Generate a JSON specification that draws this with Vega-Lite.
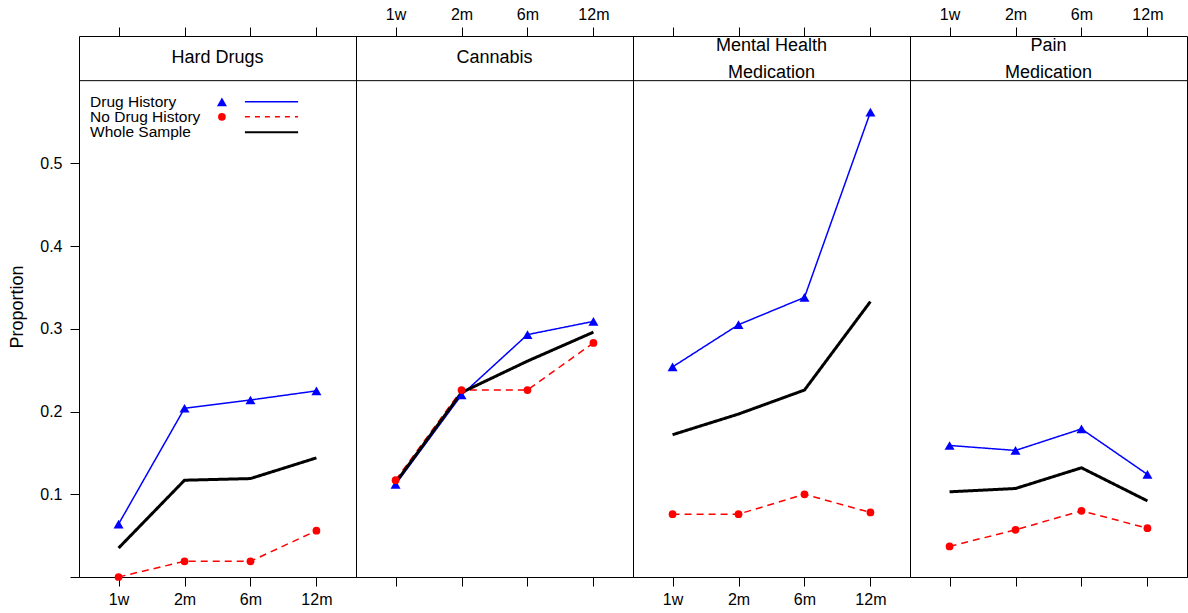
{
  "$schema": "https://vega.github.io/schema/vega-lite/v6.json",
  "padding": {"left": 8, "top": 5, "right": 0, "bottom": 0},
  "background": "white",
  "spacing": 0,
  "bounds": "flush",
  "datasets": {
    "d": [
      {"panel": "Hard Drugs", "time": "1w", "group": "Drug History", "value": 0.064},
      {"panel": "Hard Drugs", "time": "2m", "group": "Drug History", "value": 0.204},
      {"panel": "Hard Drugs", "time": "6m", "group": "Drug History", "value": 0.214},
      {"panel": "Hard Drugs", "time": "12m", "group": "Drug History", "value": 0.225},
      {"panel": "Hard Drugs", "time": "1w", "group": "No Drug History", "value": 0.0},
      {"panel": "Hard Drugs", "time": "2m", "group": "No Drug History", "value": 0.019},
      {"panel": "Hard Drugs", "time": "6m", "group": "No Drug History", "value": 0.019},
      {"panel": "Hard Drugs", "time": "12m", "group": "No Drug History", "value": 0.056},
      {"panel": "Hard Drugs", "time": "1w", "group": "Whole Sample", "value": 0.035},
      {"panel": "Hard Drugs", "time": "2m", "group": "Whole Sample", "value": 0.117},
      {"panel": "Hard Drugs", "time": "6m", "group": "Whole Sample", "value": 0.119},
      {"panel": "Hard Drugs", "time": "12m", "group": "Whole Sample", "value": 0.144},
      {"panel": "Cannabis", "time": "1w", "group": "Drug History", "value": 0.112},
      {"panel": "Cannabis", "time": "2m", "group": "Drug History", "value": 0.220},
      {"panel": "Cannabis", "time": "6m", "group": "Drug History", "value": 0.293},
      {"panel": "Cannabis", "time": "12m", "group": "Drug History", "value": 0.309},
      {"panel": "Cannabis", "time": "1w", "group": "No Drug History", "value": 0.117},
      {"panel": "Cannabis", "time": "2m", "group": "No Drug History", "value": 0.226},
      {"panel": "Cannabis", "time": "6m", "group": "No Drug History", "value": 0.226},
      {"panel": "Cannabis", "time": "12m", "group": "No Drug History", "value": 0.283},
      {"panel": "Cannabis", "time": "1w", "group": "Whole Sample", "value": 0.114},
      {"panel": "Cannabis", "time": "2m", "group": "Whole Sample", "value": 0.223},
      {"panel": "Cannabis", "time": "6m", "group": "Whole Sample", "value": 0.261},
      {"panel": "Cannabis", "time": "12m", "group": "Whole Sample", "value": 0.296},
      {"panel": "Mental Health Medication", "time": "1w", "group": "Drug History", "value": 0.254},
      {"panel": "Mental Health Medication", "time": "2m", "group": "Drug History", "value": 0.305},
      {"panel": "Mental Health Medication", "time": "6m", "group": "Drug History", "value": 0.338},
      {"panel": "Mental Health Medication", "time": "12m", "group": "Drug History", "value": 0.562},
      {"panel": "Mental Health Medication", "time": "1w", "group": "No Drug History", "value": 0.076},
      {"panel": "Mental Health Medication", "time": "2m", "group": "No Drug History", "value": 0.076},
      {"panel": "Mental Health Medication", "time": "6m", "group": "No Drug History", "value": 0.100},
      {"panel": "Mental Health Medication", "time": "12m", "group": "No Drug History", "value": 0.078},
      {"panel": "Mental Health Medication", "time": "1w", "group": "Whole Sample", "value": 0.172},
      {"panel": "Mental Health Medication", "time": "2m", "group": "Whole Sample", "value": 0.197},
      {"panel": "Mental Health Medication", "time": "6m", "group": "Whole Sample", "value": 0.226},
      {"panel": "Mental Health Medication", "time": "12m", "group": "Whole Sample", "value": 0.333},
      {"panel": "Pain Medication", "time": "1w", "group": "Drug History", "value": 0.159},
      {"panel": "Pain Medication", "time": "2m", "group": "Drug History", "value": 0.153},
      {"panel": "Pain Medication", "time": "6m", "group": "Drug History", "value": 0.179},
      {"panel": "Pain Medication", "time": "12m", "group": "Drug History", "value": 0.124},
      {"panel": "Pain Medication", "time": "1w", "group": "No Drug History", "value": 0.037},
      {"panel": "Pain Medication", "time": "2m", "group": "No Drug History", "value": 0.057},
      {"panel": "Pain Medication", "time": "6m", "group": "No Drug History", "value": 0.080},
      {"panel": "Pain Medication", "time": "12m", "group": "No Drug History", "value": 0.059},
      {"panel": "Pain Medication", "time": "1w", "group": "Whole Sample", "value": 0.103},
      {"panel": "Pain Medication", "time": "2m", "group": "Whole Sample", "value": 0.107},
      {"panel": "Pain Medication", "time": "6m", "group": "Whole Sample", "value": 0.132},
      {"panel": "Pain Medication", "time": "12m", "group": "Whole Sample", "value": 0.092}
    ]
  },
  "hconcat": [
    {
      "width": 277, "height": 541,
      "resolve": {"scale": {"x": "independent"}, "axis": {"x": "independent"}},
      "layer": [
        {
          "resolve": {"axis": {"x": "independent"}},
          "layer": [
            {
              "data": {"name": "d"},
              "transform": [{"filter": "datum.panel === 'Hard Drugs'"}],
              "mark": {"type": "line"},
              "encoding": {
                "x": {"field": "time", "type": "ordinal", "scale": {"type": "point", "domain": ["1w", "2m", "6m", "12m"], "padding": 0.6}, "axis": {"orient": "bottom", "title": null, "labelAngle": 0, "labelOpacity": 1}},
                "y": {"field": "value", "type": "quantitative", "scale": {"domain": [0, 0.654], "nice": false, "zero": false}, "axis": {"orient": "left", "values": [0, 0.1, 0.2, 0.3, 0.4, 0.5], "labelExpr": "datum.value === 0 ? '' : format(datum.value, '.1f')", "title": "Proportion", "labelPadding": 8, "titlePadding": 13}},
                "color": {"field": "group", "type": "nominal", "scale": {"domain": ["Drug History", "No Drug History", "Whole Sample"], "range": ["#0000ff", "#ff0000", "#000000"]}, "legend": null},
                "strokeDash": {"field": "group", "type": "nominal", "scale": {"domain": ["Drug History", "No Drug History", "Whole Sample"], "range": [[1, 0], [7, 5], [1, 0]]}, "legend": null},
                "strokeWidth": {"condition": {"test": "datum.group === 'Whole Sample'", "value": 3}, "value": 1.5}
              }
            },
            {
              "data": {"name": "d"},
              "transform": [{"filter": "datum.panel === 'Hard Drugs' && datum.group !== 'Whole Sample'"}],
              "mark": {"type": "point", "filled": true, "opacity": 1},
              "encoding": {
                "x": {"field": "time", "type": "ordinal", "scale": {"type": "point", "domain": ["1w", "2m", "6m", "12m"], "padding": 0.6}, "axis": {"orient": "top", "title": null, "labelAngle": 0, "labelOpacity": 0}},
                "y": {"field": "value", "type": "quantitative", "scale": {"domain": [0, 0.654], "nice": false, "zero": false}, "axis": {"orient": "left", "values": [0, 0.1, 0.2, 0.3, 0.4, 0.5], "labelExpr": "datum.value === 0 ? '' : format(datum.value, '.1f')", "title": "Proportion", "labelPadding": 8, "titlePadding": 13}},
                "color": {"field": "group", "type": "nominal", "scale": {"domain": ["Drug History", "No Drug History", "Whole Sample"], "range": ["#0000ff", "#ff0000", "#000000"]}, "legend": null},
                "shape": {"field": "group", "type": "nominal", "scale": {"domain": ["Drug History", "No Drug History"], "range": ["triangle-up", "circle"]}, "legend": null},
                "size": {"condition": {"test": "datum.group === 'Drug History'", "value": 100}, "value": 60}
              }
            }
          ]
        },
        {
          "data": {"values": [{"strip": "Hard Drugs"}]},
          "layer": [
            {"mark": {"type": "rule", "color": "black", "strokeWidth": 1}, "encoding": {"y": {"datum": 0.6, "type": "quantitative", "scale": {"domain": [0, 0.654], "nice": false, "zero": false}, "axis": {"orient": "left", "values": [0, 0.1, 0.2, 0.3, 0.4, 0.5], "labelExpr": "datum.value === 0 ? '' : format(datum.value, '.1f')", "title": "Proportion", "labelPadding": 8, "titlePadding": 13}}}},
            {"mark": {"type": "text", "font": "Liberation Sans", "fontSize": 18, "color": "black", "lineBreak": "\n", "lineHeight": 27, "baseline": "middle"}, "encoding": {"text": {"field": "strip"}, "y": {"datum": 0.627, "type": "quantitative", "scale": {"domain": [0, 0.654], "nice": false, "zero": false}, "axis": {"orient": "left", "values": [0, 0.1, 0.2, 0.3, 0.4, 0.5], "labelExpr": "datum.value === 0 ? '' : format(datum.value, '.1f')", "title": "Proportion", "labelPadding": 8, "titlePadding": 13}}}}
          ]
        },
        {
          "data": {"values": [{"a": "Drug History", "b": "No Drug History", "c": "Whole Sample"}]},
          "layer": [
            {"mark": {"type": "text", "align": "left", "baseline": "middle", "font": "Liberation Sans", "fontSize": 15.5, "color": "black"}, "encoding": {"text": {"field": "a"}, "x": {"datum": 0.04, "type": "quantitative", "scale": {"domain": [0, 1], "nice": false, "zero": false}, "axis": null}, "y": {"datum": 0.5744, "type": "quantitative", "scale": {"domain": [0, 0.654], "nice": false, "zero": false}, "axis": {"orient": "left", "values": [0, 0.1, 0.2, 0.3, 0.4, 0.5], "labelExpr": "datum.value === 0 ? '' : format(datum.value, '.1f')", "title": "Proportion", "labelPadding": 8, "titlePadding": 13}}}},
            {"mark": {"type": "text", "align": "left", "baseline": "middle", "font": "Liberation Sans", "fontSize": 15.5, "color": "black"}, "encoding": {"text": {"field": "b"}, "x": {"datum": 0.04, "type": "quantitative", "scale": {"domain": [0, 1], "nice": false, "zero": false}, "axis": null}, "y": {"datum": 0.5563, "type": "quantitative", "scale": {"domain": [0, 0.654], "nice": false, "zero": false}, "axis": {"orient": "left", "values": [0, 0.1, 0.2, 0.3, 0.4, 0.5], "labelExpr": "datum.value === 0 ? '' : format(datum.value, '.1f')", "title": "Proportion", "labelPadding": 8, "titlePadding": 13}}}},
            {"mark": {"type": "text", "align": "left", "baseline": "middle", "font": "Liberation Sans", "fontSize": 15.5, "color": "black"}, "encoding": {"text": {"field": "c"}, "x": {"datum": 0.04, "type": "quantitative", "scale": {"domain": [0, 1], "nice": false, "zero": false}, "axis": null}, "y": {"datum": 0.5375, "type": "quantitative", "scale": {"domain": [0, 0.654], "nice": false, "zero": false}, "axis": {"orient": "left", "values": [0, 0.1, 0.2, 0.3, 0.4, 0.5], "labelExpr": "datum.value === 0 ? '' : format(datum.value, '.1f')", "title": "Proportion", "labelPadding": 8, "titlePadding": 13}}}},
            {"mark": {"type": "point", "shape": "triangle-up", "filled": true, "opacity": 1, "color": "#0000ff", "size": 100}, "encoding": {"x": {"datum": 0.516, "type": "quantitative", "scale": {"domain": [0, 1], "nice": false, "zero": false}, "axis": null}, "y": {"datum": 0.5744, "type": "quantitative", "scale": {"domain": [0, 0.654], "nice": false, "zero": false}, "axis": {"orient": "left", "values": [0, 0.1, 0.2, 0.3, 0.4, 0.5], "labelExpr": "datum.value === 0 ? '' : format(datum.value, '.1f')", "title": "Proportion", "labelPadding": 8, "titlePadding": 13}}}},
            {"mark": {"type": "point", "shape": "circle", "filled": true, "opacity": 1, "color": "#ff0000", "size": 60}, "encoding": {"x": {"datum": 0.516, "type": "quantitative", "scale": {"domain": [0, 1], "nice": false, "zero": false}, "axis": null}, "y": {"datum": 0.5563, "type": "quantitative", "scale": {"domain": [0, 0.654], "nice": false, "zero": false}, "axis": {"orient": "left", "values": [0, 0.1, 0.2, 0.3, 0.4, 0.5], "labelExpr": "datum.value === 0 ? '' : format(datum.value, '.1f')", "title": "Proportion", "labelPadding": 8, "titlePadding": 13}}}},
            {"mark": {"type": "rule", "color": "#0000ff", "strokeWidth": 1.5}, "encoding": {"x": {"datum": 0.599, "type": "quantitative", "scale": {"domain": [0, 1], "nice": false, "zero": false}, "axis": null}, "x2": {"datum": 0.791}, "y": {"datum": 0.5744, "type": "quantitative", "scale": {"domain": [0, 0.654], "nice": false, "zero": false}, "axis": {"orient": "left", "values": [0, 0.1, 0.2, 0.3, 0.4, 0.5], "labelExpr": "datum.value === 0 ? '' : format(datum.value, '.1f')", "title": "Proportion", "labelPadding": 8, "titlePadding": 13}}}},
            {"mark": {"type": "rule", "color": "#ff0000", "strokeWidth": 1.5, "strokeDash": [5, 5]}, "encoding": {"x": {"datum": 0.599, "type": "quantitative", "scale": {"domain": [0, 1], "nice": false, "zero": false}, "axis": null}, "x2": {"datum": 0.791}, "y": {"datum": 0.5563, "type": "quantitative", "scale": {"domain": [0, 0.654], "nice": false, "zero": false}, "axis": {"orient": "left", "values": [0, 0.1, 0.2, 0.3, 0.4, 0.5], "labelExpr": "datum.value === 0 ? '' : format(datum.value, '.1f')", "title": "Proportion", "labelPadding": 8, "titlePadding": 13}}}},
            {"mark": {"type": "rule", "color": "#000000", "strokeWidth": 2}, "encoding": {"x": {"datum": 0.599, "type": "quantitative", "scale": {"domain": [0, 1], "nice": false, "zero": false}, "axis": null}, "x2": {"datum": 0.791}, "y": {"datum": 0.5375, "type": "quantitative", "scale": {"domain": [0, 0.654], "nice": false, "zero": false}, "axis": {"orient": "left", "values": [0, 0.1, 0.2, 0.3, 0.4, 0.5], "labelExpr": "datum.value === 0 ? '' : format(datum.value, '.1f')", "title": "Proportion", "labelPadding": 8, "titlePadding": 13}}}}
          ]
        }
      ]
    },
    {
      "width": 277, "height": 541,
      "layer": [
        {
          "resolve": {"axis": {"x": "independent"}},
          "layer": [
            {
              "data": {"name": "d"},
              "transform": [{"filter": "datum.panel === 'Cannabis'"}],
              "mark": {"type": "line"},
              "encoding": {
                "x": {"field": "time", "type": "ordinal", "scale": {"type": "point", "domain": ["1w", "2m", "6m", "12m"], "padding": 0.6}, "axis": {"orient": "bottom", "title": null, "labelAngle": 0, "labelOpacity": 0}},
                "y": {"field": "value", "type": "quantitative", "scale": {"domain": [0, 0.654], "nice": false, "zero": false}, "axis": null},
                "color": {"field": "group", "type": "nominal", "scale": {"domain": ["Drug History", "No Drug History", "Whole Sample"], "range": ["#0000ff", "#ff0000", "#000000"]}, "legend": null},
                "strokeDash": {"field": "group", "type": "nominal", "scale": {"domain": ["Drug History", "No Drug History", "Whole Sample"], "range": [[1, 0], [7, 5], [1, 0]]}, "legend": null},
                "strokeWidth": {"condition": {"test": "datum.group === 'Whole Sample'", "value": 3}, "value": 1.5}
              }
            },
            {
              "data": {"name": "d"},
              "transform": [{"filter": "datum.panel === 'Cannabis' && datum.group !== 'Whole Sample'"}],
              "mark": {"type": "point", "filled": true, "opacity": 1},
              "encoding": {
                "x": {"field": "time", "type": "ordinal", "scale": {"type": "point", "domain": ["1w", "2m", "6m", "12m"], "padding": 0.6}, "axis": {"orient": "top", "title": null, "labelAngle": 0, "labelOpacity": 1}},
                "y": {"field": "value", "type": "quantitative", "scale": {"domain": [0, 0.654], "nice": false, "zero": false}, "axis": null},
                "color": {"field": "group", "type": "nominal", "scale": {"domain": ["Drug History", "No Drug History", "Whole Sample"], "range": ["#0000ff", "#ff0000", "#000000"]}, "legend": null},
                "shape": {"field": "group", "type": "nominal", "scale": {"domain": ["Drug History", "No Drug History"], "range": ["triangle-up", "circle"]}, "legend": null},
                "size": {"condition": {"test": "datum.group === 'Drug History'", "value": 100}, "value": 60}
              }
            }
          ]
        },
        {
          "data": {"values": [{"strip": "Cannabis"}]},
          "layer": [
            {"mark": {"type": "rule", "color": "black", "strokeWidth": 1}, "encoding": {"y": {"datum": 0.6, "type": "quantitative", "scale": {"domain": [0, 0.654], "nice": false, "zero": false}, "axis": null}}},
            {"mark": {"type": "text", "font": "Liberation Sans", "fontSize": 18, "color": "black", "lineBreak": "\n", "lineHeight": 27, "baseline": "middle"}, "encoding": {"text": {"field": "strip"}, "y": {"datum": 0.627, "type": "quantitative", "scale": {"domain": [0, 0.654], "nice": false, "zero": false}, "axis": null}}}
          ]
        }
      ]
    },
    {
      "width": 277, "height": 541,
      "layer": [
        {
          "resolve": {"axis": {"x": "independent"}},
          "layer": [
            {
              "data": {"name": "d"},
              "transform": [{"filter": "datum.panel === 'Mental Health Medication'"}],
              "mark": {"type": "line"},
              "encoding": {
                "x": {"field": "time", "type": "ordinal", "scale": {"type": "point", "domain": ["1w", "2m", "6m", "12m"], "padding": 0.6}, "axis": {"orient": "bottom", "title": null, "labelAngle": 0, "labelOpacity": 1}},
                "y": {"field": "value", "type": "quantitative", "scale": {"domain": [0, 0.654], "nice": false, "zero": false}, "axis": null},
                "color": {"field": "group", "type": "nominal", "scale": {"domain": ["Drug History", "No Drug History", "Whole Sample"], "range": ["#0000ff", "#ff0000", "#000000"]}, "legend": null},
                "strokeDash": {"field": "group", "type": "nominal", "scale": {"domain": ["Drug History", "No Drug History", "Whole Sample"], "range": [[1, 0], [7, 5], [1, 0]]}, "legend": null},
                "strokeWidth": {"condition": {"test": "datum.group === 'Whole Sample'", "value": 3}, "value": 1.5}
              }
            },
            {
              "data": {"name": "d"},
              "transform": [{"filter": "datum.panel === 'Mental Health Medication' && datum.group !== 'Whole Sample'"}],
              "mark": {"type": "point", "filled": true, "opacity": 1},
              "encoding": {
                "x": {"field": "time", "type": "ordinal", "scale": {"type": "point", "domain": ["1w", "2m", "6m", "12m"], "padding": 0.6}, "axis": {"orient": "top", "title": null, "labelAngle": 0, "labelOpacity": 0}},
                "y": {"field": "value", "type": "quantitative", "scale": {"domain": [0, 0.654], "nice": false, "zero": false}, "axis": null},
                "color": {"field": "group", "type": "nominal", "scale": {"domain": ["Drug History", "No Drug History", "Whole Sample"], "range": ["#0000ff", "#ff0000", "#000000"]}, "legend": null},
                "shape": {"field": "group", "type": "nominal", "scale": {"domain": ["Drug History", "No Drug History"], "range": ["triangle-up", "circle"]}, "legend": null},
                "size": {"condition": {"test": "datum.group === 'Drug History'", "value": 100}, "value": 60}
              }
            }
          ]
        },
        {
          "data": {"values": [{"strip": "Mental Health\nMedication"}]},
          "layer": [
            {"mark": {"type": "rule", "color": "black", "strokeWidth": 1}, "encoding": {"y": {"datum": 0.6, "type": "quantitative", "scale": {"domain": [0, 0.654], "nice": false, "zero": false}, "axis": null}}},
            {"mark": {"type": "text", "font": "Liberation Sans", "fontSize": 18, "color": "black", "lineBreak": "\n", "lineHeight": 27, "baseline": "middle"}, "encoding": {"text": {"field": "strip"}, "y": {"datum": 0.6422, "type": "quantitative", "scale": {"domain": [0, 0.654], "nice": false, "zero": false}, "axis": null}}}
          ]
        }
      ]
    },
    {
      "width": 277, "height": 541,
      "layer": [
        {
          "resolve": {"axis": {"x": "independent"}},
          "layer": [
            {
              "data": {"name": "d"},
              "transform": [{"filter": "datum.panel === 'Pain Medication'"}],
              "mark": {"type": "line"},
              "encoding": {
                "x": {"field": "time", "type": "ordinal", "scale": {"type": "point", "domain": ["1w", "2m", "6m", "12m"], "padding": 0.6}, "axis": {"orient": "bottom", "title": null, "labelAngle": 0, "labelOpacity": 0}},
                "y": {"field": "value", "type": "quantitative", "scale": {"domain": [0, 0.654], "nice": false, "zero": false}, "axis": {"orient": "right", "values": [0, 0.1, 0.2, 0.3, 0.4, 0.5], "labels": false, "title": null}},
                "color": {"field": "group", "type": "nominal", "scale": {"domain": ["Drug History", "No Drug History", "Whole Sample"], "range": ["#0000ff", "#ff0000", "#000000"]}, "legend": null},
                "strokeDash": {"field": "group", "type": "nominal", "scale": {"domain": ["Drug History", "No Drug History", "Whole Sample"], "range": [[1, 0], [7, 5], [1, 0]]}, "legend": null},
                "strokeWidth": {"condition": {"test": "datum.group === 'Whole Sample'", "value": 3}, "value": 1.5}
              }
            },
            {
              "data": {"name": "d"},
              "transform": [{"filter": "datum.panel === 'Pain Medication' && datum.group !== 'Whole Sample'"}],
              "mark": {"type": "point", "filled": true, "opacity": 1},
              "encoding": {
                "x": {"field": "time", "type": "ordinal", "scale": {"type": "point", "domain": ["1w", "2m", "6m", "12m"], "padding": 0.6}, "axis": {"orient": "top", "title": null, "labelAngle": 0, "labelOpacity": 1}},
                "y": {"field": "value", "type": "quantitative", "scale": {"domain": [0, 0.654], "nice": false, "zero": false}, "axis": {"orient": "right", "values": [0, 0.1, 0.2, 0.3, 0.4, 0.5], "labels": false, "title": null}},
                "color": {"field": "group", "type": "nominal", "scale": {"domain": ["Drug History", "No Drug History", "Whole Sample"], "range": ["#0000ff", "#ff0000", "#000000"]}, "legend": null},
                "shape": {"field": "group", "type": "nominal", "scale": {"domain": ["Drug History", "No Drug History"], "range": ["triangle-up", "circle"]}, "legend": null},
                "size": {"condition": {"test": "datum.group === 'Drug History'", "value": 100}, "value": 60}
              }
            }
          ]
        },
        {
          "data": {"values": [{"strip": "Pain\nMedication"}]},
          "layer": [
            {"mark": {"type": "rule", "color": "black", "strokeWidth": 1}, "encoding": {"y": {"datum": 0.6, "type": "quantitative", "scale": {"domain": [0, 0.654], "nice": false, "zero": false}, "axis": {"orient": "right", "values": [0, 0.1, 0.2, 0.3, 0.4, 0.5], "labels": false, "title": null}}}},
            {"mark": {"type": "text", "font": "Liberation Sans", "fontSize": 18, "color": "black", "lineBreak": "\n", "lineHeight": 27, "baseline": "middle"}, "encoding": {"text": {"field": "strip"}, "y": {"datum": 0.6422, "type": "quantitative", "scale": {"domain": [0, 0.654], "nice": false, "zero": false}, "axis": {"orient": "right", "values": [0, 0.1, 0.2, 0.3, 0.4, 0.5], "labels": false, "title": null}}}}
          ]
        }
      ]
    }
  ],
  "config": {
    "view": {"stroke": "black", "strokeWidth": 1},
    "concat": {"spacing": 0},
    "axis": {
      "domain": false,
      "grid": false,
      "ticks": true,
      "tickColor": "black",
      "tickSize": 9,
      "tickWidth": 1,
      "labelColor": "black",
      "labelFont": "Liberation Sans",
      "labelFontSize": 16,
      "labelPadding": 5,
      "titleFont": "Liberation Sans",
      "titleFontSize": 18,
      "titleFontWeight": "normal",
      "titleColor": "black"
    }
  }
}
